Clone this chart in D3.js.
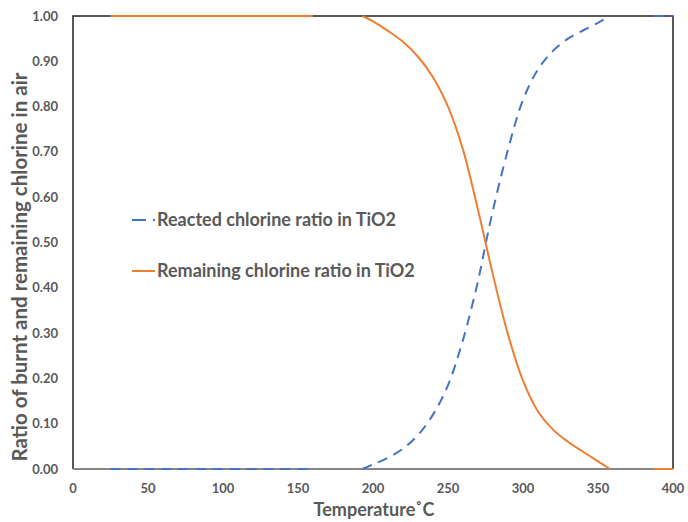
<!DOCTYPE html>
<html>
<head>
<meta charset="utf-8">
<script src="https://cdn.jsdelivr.net/npm/d3@7"></script>
<style>
  html, body { margin: 0; padding: 0; background: #fff; }
  svg text { font-family: Lato, "Open Sans", sans-serif; font-weight: 700; fill: #595959; }
</style>
</head>
<body>
<svg id="chart" width="688" height="522"></svg>
<script>
// Temperature (°C); null values mark the gaps between segments
const temps = [25, 50, 75, 100, 125, 150, 160, 175,
  193, 200, 210, 220, 230, 240, 250, 260, 270, 275, 280, 290,
  300, 310, 320, 330, 340, 350, 358, 372, 387, 400];

const reacted = [0, 0, 0, 0, 0, 0, 0, null,
  0, 0.01, 0.025, 0.045, 0.075, 0.12, 0.185, 0.285, 0.415, 0.495, 0.572, 0.705,
  0.815, 0.882, 0.923, 0.95, 0.968, 0.985, 1.0, null, 1.0, 1.0];

const remaining = [1, 1, 1, 1, 1, 1, 1, null,
  1, 0.988, 0.967, 0.943, 0.91, 0.865, 0.8, 0.705, 0.572, 0.5, 0.428, 0.297,
  0.195, 0.127, 0.087, 0.06, 0.038, 0.017, 0, null, 0, 0];

const xTicks = [0, 50, 100, 150, 200, 250, 300, 350, 400];
const yTicks = [0, 0.1, 0.2, 0.3, 0.4, 0.5, 0.6, 0.7, 0.8, 0.9, 1.0];

const series = [
  { name: "Reacted chlorine ratio in TiO2", values: reacted, color: "#4472C4", dash: "10,7" },
  { name: "Remaining chlorine ratio in TiO2", values: remaining, color: "#ED7D31", dash: null },
];

const svg = d3.select("#chart");
const margin = { left: 73, right: 15, top: 16, bottom: 53 };
const W = 688, H = 522;

const x = d3.scaleLinear().domain([0, 400]).range([margin.left, W - margin.right]);
const y = d3.scaleLinear().domain([0, 1]).range([H - margin.bottom, margin.top]);

// Y tick labels
svg.append("g")
  .selectAll("text")
  .data(yTicks)
  .join("text")
  .attr("x", margin.left - 15)
  .attr("y", (d) => y(d))
  .attr("dy", "0.35em")
  .attr("text-anchor", "end")
  .attr("font-size", 13)
  .text((d) => d.toFixed(2));

// X tick labels
svg.append("g")
  .selectAll("text")
  .data(xTicks)
  .join("text")
  .attr("x", (d) => x(d))
  .attr("y", y(0) + 24)
  .attr("text-anchor", "middle")
  .attr("font-size", 13)
  .text((d) => d);

// Plot frame
svg.append("path")
  .attr("d", `M${x(0)},${y(0)}V${y(1)}H${x(400)}V${y(0)}`)
  .attr("fill", "none")
  .attr("stroke", "#222")
  .attr("stroke-width", 1.5);

svg.append("line")
  .attr("x1", x(0)).attr("x2", x(400))
  .attr("y1", y(0)).attr("y2", y(0))
  .attr("stroke", "#858585")
  .attr("stroke-width", 2);

// Lines (smoothed like the spreadsheet chart)
const line = d3.line()
  .defined((d) => d[1] != null)
  .x((d) => x(d[0]))
  .y((d) => y(d[1]))
  .curve(d3.curveCatmullRom.alpha(0.5));

series.forEach((s) => {
  svg.append("path")
    .datum(temps.map((t, i) => [t, s.values[i]]))
    .attr("d", line)
    .attr("fill", "none")
    .attr("stroke", s.color)
    .attr("stroke-width", 2)
    .attr("stroke-dasharray", s.dash);
});

// Legend
const legY = [220, 271];
series.forEach((s, i) => {
  svg.append("line")
    .attr("x1", 132).attr("x2", 155)
    .attr("y1", legY[i]).attr("y2", legY[i])
    .attr("stroke", s.color)
    .attr("stroke-width", 2)
    .attr("stroke-dasharray", s.dash ? "14,7" : null);
  svg.append("text")
    .attr("x", 157)
    .attr("y", legY[i])
    .attr("dy", "0.35em")
    .attr("font-size", 18)
    .text(s.name);
});

// Axis titles
svg.append("text")
  .attr("x", 374)
  .attr("y", 516)
  .attr("text-anchor", "middle")
  .attr("font-size", 18)
  .text("Temperature˚C");

svg.append("text")
  .attr("transform", `translate(27,267) rotate(-90)`)
  .attr("text-anchor", "middle")
  .attr("font-size", 20.5)
  .text("Ratio of burnt and remaining chlorine in air");
</script>
</body>
</html>
